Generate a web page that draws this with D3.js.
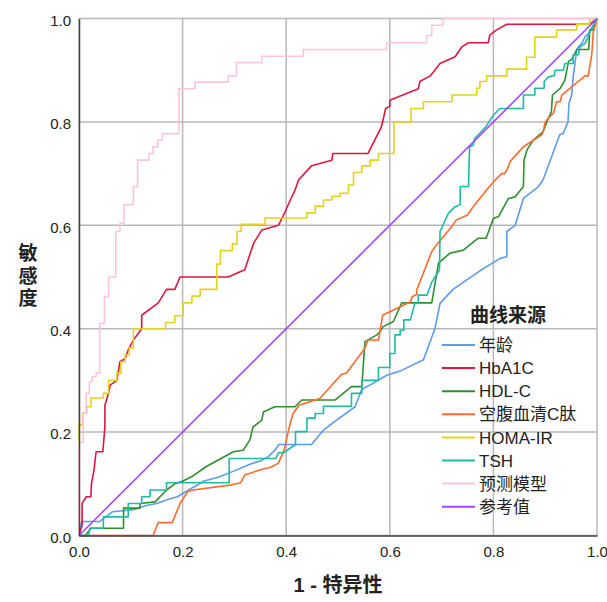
<!DOCTYPE html>
<html>
<head>
<meta charset="utf-8">
<script src="https://cdn.jsdelivr.net/npm/d3@7"></script>
<style>
  body { margin: 0; background: #fff; }
  svg { display: block; font-family: "Liberation Sans", Arial, "Noto Sans CJK SC", sans-serif; }
</style>
</head>
<body>
<div id="chart"></div>
<script>
// ROC 曲线数据, 每个点是 [1 - 特异性, 敏感度]
const seriesNames = ["年龄", "HbA1C", "HDL-C", "空腹血清C肽", "HOMA-IR", "TSH", "预测模型", "参考值"];
const seriesColors = ["#5b9bf2", "#e0163e", "#2f8f2f", "#ff6a2c", "#e6d11b", "#1fbaa6", "#ffc4dc", "#a447ff"];
const tickValues = [0, 0.2, 0.4, 0.6, 0.8, 1.0];

const agePoints = [[0,0],[0.005,0.027],[0.04,0.027],[0.05,0.035],[0.065,0.046],[0.105,0.05],[0.13,0.058],[0.15,0.062],
  [0.17,0.069],[0.19,0.075],[0.22,0.093],[0.23,0.098],[0.24,0.105],[0.27,0.113],[0.3,0.125],[0.33,0.138],[0.35,0.144],
  [0.365,0.152],[0.378,0.165],[0.386,0.176],[0.449,0.176],[0.472,0.204],[0.49,0.218],[0.533,0.249],[0.546,0.283],
  [0.56,0.29],[0.594,0.31],[0.62,0.318],[0.665,0.34],[0.687,0.40],[0.697,0.449],[0.722,0.476],[0.774,0.512],[0.813,0.536],
  [0.826,0.539],[0.826,0.588],[0.842,0.60],[0.858,0.652],[0.887,0.675],[0.896,0.688],[0.928,0.775],[0.935,0.778],
  [0.944,0.80],[0.946,0.836],[0.951,0.852],[0.954,0.887],[0.961,0.94],[0.964,0.945],[0.971,0.952],[0.977,0.965],
  [0.983,0.97],[0.99,0.98],[1,1]];

const hba1cPoints = [[0,0],[0.006,0.02],[0.006,0.062],[0.014,0.075],[0.023,0.075],[0.024,0.10],[0.029,0.127],[0.033,0.162],
  [0.046,0.162],[0.05,0.21],[0.05,0.252],[0.057,0.275],[0.06,0.291],[0.073,0.30],[0.079,0.336],[0.089,0.342],[0.095,0.359],
  [0.105,0.378],[0.121,0.40],[0.121,0.426],[0.153,0.45],[0.169,0.476],[0.185,0.476],[0.195,0.50],[0.288,0.50],[0.32,0.514],
  [0.337,0.565],[0.353,0.591],[0.385,0.60],[0.395,0.62],[0.408,0.649],[0.417,0.668],[0.424,0.688],[0.449,0.715],
  [0.488,0.726],[0.49,0.739],[0.558,0.739],[0.584,0.791],[0.592,0.826],[0.6,0.83],[0.6,0.842],[0.655,0.864],[0.658,0.878],
  [0.678,0.889],[0.697,0.913],[0.726,0.926],[0.739,0.945],[0.752,0.953],[0.79,0.953],[0.793,0.968],[0.806,0.978],
  [0.826,0.989],[0.986,0.989],[1,1]];

const hdlPoints = [[0,0],[0.012,0],[0.018,0.007],[0.023,0.014],[0.086,0.014],[0.086,0.053],[0.118,0.053],[0.118,0.062],
  [0.147,0.065],[0.169,0.088],[0.185,0.10],[0.2,0.105],[0.218,0.114],[0.245,0.133],[0.298,0.162],[0.317,0.165],[0.33,0.185],
  [0.336,0.21],[0.353,0.223],[0.356,0.239],[0.378,0.249],[0.417,0.249],[0.43,0.262],[0.494,0.262],[0.526,0.288],
  [0.546,0.288],[0.552,0.375],[0.575,0.388],[0.581,0.394],[0.587,0.404],[0.607,0.414],[0.623,0.45],[0.681,0.45],
  [0.694,0.527],[0.716,0.546],[0.742,0.552],[0.758,0.565],[0.771,0.575],[0.786,0.575],[0.794,0.597],[0.8,0.613],
  [0.81,0.617],[0.829,0.652],[0.842,0.655],[0.858,0.675],[0.859,0.726],[0.865,0.746],[0.877,0.765],[0.896,0.781],
  [0.903,0.80],[0.912,0.82],[0.914,0.852],[0.929,0.865],[0.938,0.881],[0.945,0.917],[0.951,0.921],[0.961,0.94],
  [0.984,0.94],[0.986,0.978],[0.993,0.978],[0.996,0.989],[1,1]];

const cpeptidePoints = [[0,0],[0.143,0],[0.153,0.025],[0.18,0.025],[0.195,0.062],[0.21,0.085],[0.22,0.088],[0.295,0.098],
  [0.312,0.102],[0.32,0.117],[0.35,0.127],[0.37,0.132],[0.385,0.14],[0.396,0.165],[0.406,0.21],[0.413,0.236],[0.425,0.252],
  [0.465,0.265],[0.507,0.312],[0.516,0.314],[0.552,0.362],[0.558,0.378],[0.578,0.378],[0.581,0.394],[0.586,0.426],
  [0.617,0.441],[0.64,0.452],[0.643,0.462],[0.652,0.466],[0.652,0.475],[0.681,0.549],[0.69,0.562],[0.72,0.598],
  [0.728,0.61],[0.75,0.62],[0.761,0.636],[0.79,0.672],[0.804,0.688],[0.816,0.70],[0.822,0.70],[0.829,0.713],[0.832,0.723],
  [0.838,0.73],[0.858,0.752],[0.893,0.775],[0.896,0.781],[0.9,0.80],[0.906,0.807],[0.916,0.817],[0.922,0.839],
  [0.929,0.839],[0.932,0.852],[0.977,0.889],[0.983,0.889],[0.99,0.931],[0.993,0.975],[1,1]];

// 阶梯形曲线: 先水平移动到 x, 再竖直上升到 y
const homaSteps = [[0,0],[0,0.214],[0.007,0.237],[0.015,0.249],[0.023,0.266],[0.047,0.275],[0.057,0.30],[0.073,0.314],
  [0.081,0.336],[0.089,0.349],[0.097,0.363],[0.105,0.40],[0.167,0.412],[0.185,0.425],[0.201,0.45],[0.218,0.463],
  [0.234,0.476],[0.266,0.525],[0.273,0.551],[0.296,0.564],[0.305,0.588],[0.313,0.602],[0.359,0.614],[0.44,0.624],
  [0.456,0.637],[0.472,0.649],[0.488,0.656],[0.504,0.662],[0.52,0.678],[0.53,0.702],[0.546,0.715],[0.562,0.726],
  [0.578,0.739],[0.608,0.80],[0.641,0.826],[0.665,0.839],[0.72,0.852],[0.768,0.865],[0.774,0.878],[0.787,0.889],
  [0.826,0.902],[0.864,0.925],[0.88,0.964],[0.922,0.978],[0.961,0.989],[0.986,1],[1,1]];

const tshPoints = [[0,0],[0.018,0],[0.021,0.014],[0.047,0.014],[0.047,0.036],[0.095,0.036],[0.095,0.062],[0.121,0.062],
  [0.121,0.075],[0.137,0.075],[0.137,0.088],[0.169,0.088],[0.169,0.102],[0.29,0.102],[0.29,0.149],[0.38,0.149],
  [0.385,0.16],[0.395,0.16],[0.418,0.176],[0.418,0.201],[0.44,0.201],[0.44,0.227],[0.456,0.227],[0.456,0.236],
  [0.472,0.236],[0.472,0.25],[0.526,0.25],[0.526,0.275],[0.546,0.275],[0.546,0.30],[0.578,0.30],[0.578,0.325],
  [0.6,0.325],[0.6,0.352],[0.61,0.352],[0.61,0.388],[0.62,0.388],[0.62,0.397],[0.627,0.397],[0.627,0.417],[0.64,0.417],
  [0.648,0.449],[0.655,0.449],[0.655,0.465],[0.672,0.465],[0.681,0.49],[0.696,0.514],[0.697,0.588],[0.713,0.623],
  [0.726,0.636],[0.736,0.64],[0.736,0.675],[0.752,0.675],[0.754,0.752],[0.761,0.755],[0.764,0.768],[0.785,0.79],
  [0.8,0.813],[0.812,0.826],[0.858,0.826],[0.858,0.852],[0.88,0.852],[0.88,0.865],[0.898,0.865],[0.898,0.878],
  [0.906,0.887],[0.918,0.89],[0.919,0.90],[0.935,0.90],[0.938,0.913],[0.954,0.913],[0.954,0.93],[0.964,0.93],
  [0.967,0.945],[0.977,0.952],[0.983,0.965],[0.986,0.975],[1,1]];

const modelSteps = [[0,0],[0,0.18],[0.008,0.237],[0.014,0.275],[0.02,0.297],[0.025,0.307],[0.033,0.314],[0.04,0.41],
  [0.049,0.462],[0.057,0.50],[0.071,0.588],[0.079,0.604],[0.087,0.64],[0.105,0.675],[0.113,0.726],[0.135,0.739],
  [0.143,0.752],[0.152,0.765],[0.161,0.777],[0.193,0.864],[0.224,0.877],[0.288,0.889],[0.304,0.915],[0.353,0.927],
  [0.433,0.94],[0.594,0.953],[0.671,0.967],[0.681,0.987],[0.703,1],[1,1]];

const referencePoints = [[0,0],[1,1]];

const seriesData = [agePoints, hba1cPoints, hdlPoints, cpeptidePoints, homaSteps, tshPoints, modelSteps, referencePoints];
const stepped = [false, false, false, false, true, false, true, false];

const width = 607, height = 602;

const svg = d3.select("#chart")
  .append("svg")
  .attr("width", width)
  .attr("height", height);

const x = d3.scaleLinear().domain([0, 1]).range([79, 597]);
const y = d3.scaleLinear().domain([0, 1]).range([535.5, 18.5]);

// 网格
svg.append("g")
  .selectAll("line")
  .data(tickValues)
  .enter()
  .append("line")
  .attr("x1", d => x(d)).attr("x2", d => x(d))
  .attr("y1", y(0)).attr("y2", y(1))
  .attr("stroke", "#b8b8b8")
  .attr("stroke-width", 1.5);

svg.append("g")
  .selectAll("line")
  .data(tickValues)
  .enter()
  .append("line")
  .attr("x1", x(0)).attr("x2", x(1))
  .attr("y1", d => y(d)).attr("y2", d => y(d))
  .attr("stroke", "#b8b8b8")
  .attr("stroke-width", 1.5);

// 曲线
const lines = svg.append("g").attr("fill", "none");
seriesData.forEach((pts, i) => {
  const line = d3.line()
    .x(d => x(d[0]))
    .y(d => y(d[1]))
    .curve(stepped[i] ? d3.curveStepAfter : d3.curveLinear);
  lines.append("path")
    .datum(pts)
    .attr("d", line)
    .attr("stroke", seriesColors[i])
    .attr("stroke-width", 1.6)
    .attr("stroke-linejoin", "round");
});

// 坐标轴
const yAxis = svg.append("g")
  .attr("transform", `translate(${x(0)},0)`)
  .call(d3.axisLeft(y).tickValues(tickValues).tickFormat(d3.format(".1f")).tickSize(0).tickPadding(8));
const xAxis = svg.append("g")
  .attr("transform", `translate(0,${y(0)})`)
  .call(d3.axisBottom(x).tickValues(tickValues).tickFormat(d3.format(".1f")).tickSize(0).tickPadding(11));

[xAxis, yAxis].forEach(ax => {
  ax.select(".domain").attr("stroke", "#444").attr("stroke-width", 1.5);
  ax.selectAll("text")
    .attr("fill", "#222")
    .style("font-size", "15px")
    .style("font-family", "'Liberation Sans', Arial, sans-serif");
});
yAxis.selectAll("text").attr("dy", "0.45em");

// 轴标题
svg.append("text")
  .attr("x", 338)
  .attr("y", 592)
  .attr("text-anchor", "middle")
  .style("font-size", "20px")
  .style("font-weight", "bold")
  .attr("fill", "#222")
  .text("1 - 特异性");

svg.append("g")
  .selectAll("text")
  .data("敏感度".split(""))
  .enter()
  .append("text")
  .attr("x", 28)
  .attr("y", (d, i) => 260 + i * 22.5)
  .attr("text-anchor", "middle")
  .style("font-size", "19px")
  .style("font-weight", "bold")
  .attr("fill", "#222")
  .text(d => d);

// 图例
const legend = svg.append("g");
legend.append("text")
  .attr("x", 470)
  .attr("y", 322)
  .style("font-size", "19px")
  .style("font-weight", "bold")
  .attr("fill", "#222")
  .text("曲线来源");

const items = legend.selectAll(".item")
  .data(seriesNames)
  .enter()
  .append("g")
  .attr("class", "item")
  .attr("transform", (d, i) => `translate(0,${345 + i * 23.1})`);

items.append("line")
  .attr("x1", 442).attr("x2", 475)
  .attr("stroke", (d, i) => seriesColors[i])
  .attr("stroke-width", 2);

items.append("text")
  .attr("x", 479)
  .attr("dy", "0.36em")
  .style("font-size", "17px")
  .attr("fill", "#222")
  .text(d => d);
</script>
</body>
</html>
